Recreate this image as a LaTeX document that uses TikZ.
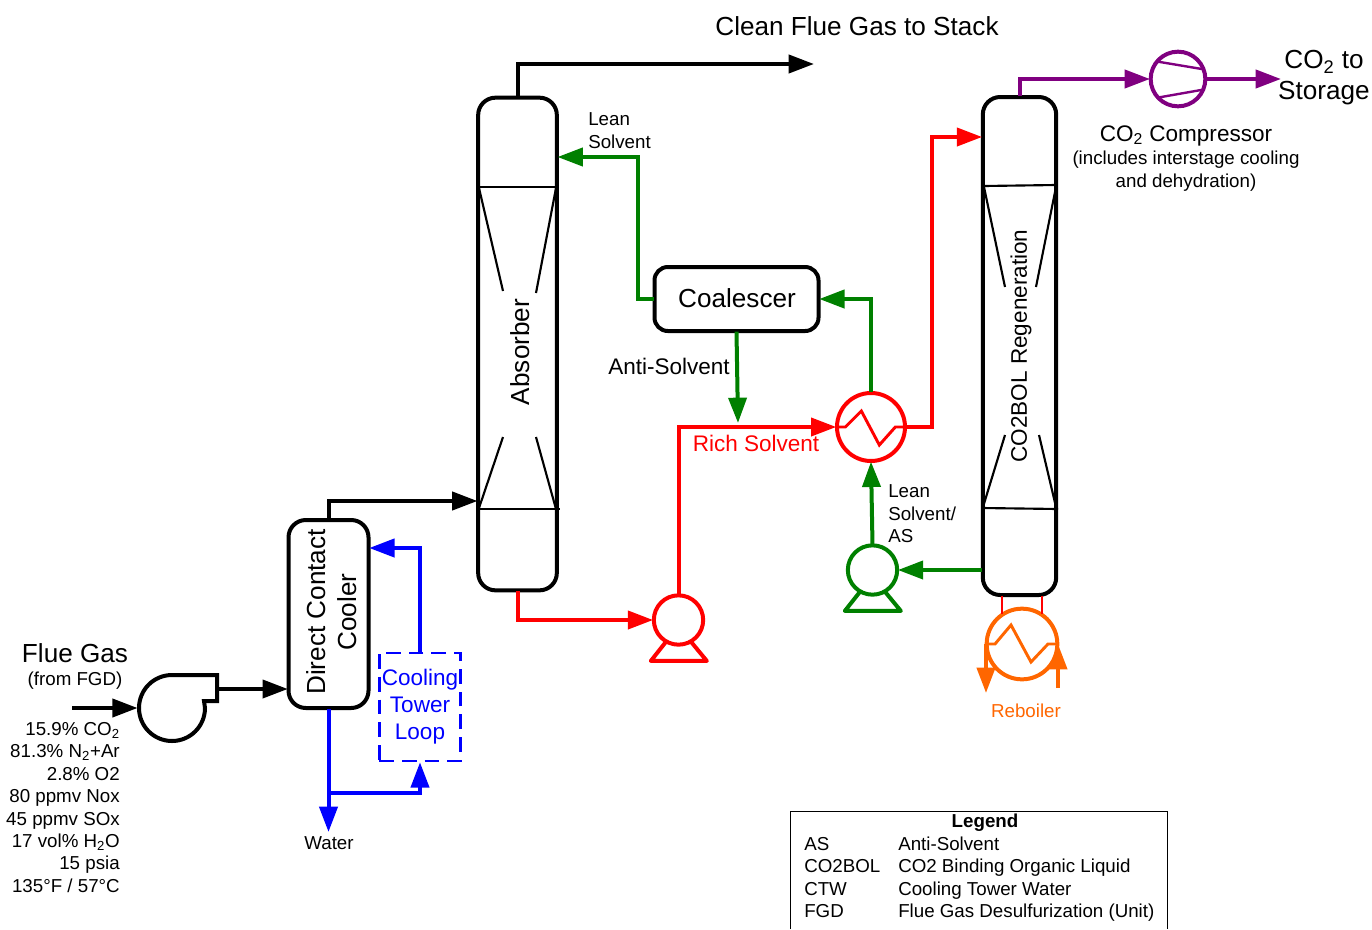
\documentclass[tikz,border=0pt]{standalone}
\usepackage{fontspec}
\setmainfont{Liberation Sans}
\usetikzlibrary{arrows.meta, calc}
\definecolor{pipegreen}{HTML}{008000}
\definecolor{pipered}{HTML}{FF0000}
\definecolor{pipeblue}{HTML}{0000FF}
\definecolor{pipepurple}{HTML}{800080}
\definecolor{pipeorange}{HTML}{FF6600}

\begin{document}
\begin{tikzpicture}[
    x=0.75pt, y=-0.75pt,
    bigtxt/.style={font=\fontsize{19.6}{23.3}\selectfont, inner sep=0pt},
    midtxt/.style={font=\fontsize{16.9}{20.3}\selectfont, inner sep=0pt},
    smalltxt/.style={font=\fontsize{14.05}{16.8}\selectfont, inner sep=0pt},
    vessel/.style={rectangle, draw=black, line width=3pt, rounded corners=13pt, inner sep=0pt, outer sep=0.5pt},
    equip/.style={circle, draw, line width=3pt, inner sep=0pt, outer sep=0.5pt},
    flow/.style={line width=3pt, -{Triangle[length=19pt, width=13.5pt]}},
    pipe/.style={line width=3pt},
    baffle/.style={black, line width=1.6pt},
]
\useasboundingbox (0,0) rectangle (1372,929);

% ================================================ vessels
\node[vessel, minimum width=59pt, minimum height=369.5pt] (absorber) at (517.5,344) {};
\node[vessel, minimum width=55pt, minimum height=373.5pt] (regen) at (1019.5,346) {};
\node[vessel, minimum width=60pt, minimum height=141pt] (dcc) at (328.5,614) {};
\node[vessel, minimum width=123pt, minimum height=48pt, rounded corners=10pt] (coalescer) at (736.5,299) {};
\node[bigtxt, rotate=90] (abslabel) at (520,352) {Absorber};
\node[midtxt, rotate=90] (regenlabel) at (1021,346) {CO2BOL Regeneration};
\node[bigtxt, rotate=90, align=center] (dcclabel) at (332,612) {Direct Contact\\Cooler};
\node[bigtxt] (coallabel) at (737,298) {Coalescer};

% packing inside the columns
\draw[baffle] (477,187) -- (557,187);
\draw[baffle] (477,509) -- (560,509);
\draw[baffle] (479,188) -- (503,291);
\draw[baffle] (556,188) -- (536,293);
\draw[baffle] (503,437) -- (479,508);
\draw[baffle] (536,437) -- (556,509);
\draw[baffle] (984,186) -- (1056,185);
\draw[baffle] (982,508) -- (1058,509);
\draw[baffle] (984,187) -- (1005,287);
\draw[baffle] (1056,187) -- (1036,287);
\draw[baffle] (1005,435) -- (983,507);
\draw[baffle] (1039,435) -- (1056,507);

% ================================================ equipment
\node[equip, draw=none, minimum size=49.5pt, outer sep=0pt] (blower) at (172,708) {};
\draw[pipe, line join=miter] (blower.north) arc[start angle=90, end angle=360, radius=24.75pt]
    -- (204,701) -- (217,701) -- (217,675) -- cycle;

\node[equip, draw=pipered, minimum size=51pt] (hxrich) at (871,427) {};
\node[equip, draw=pipered, minimum size=37pt] (pumprich) at (678.5,620) {};
\node[equip, draw=pipegreen, minimum size=37pt] (pumplean) at (872.5,570) {};
\node[equip, draw=pipeorange, minimum size=53pt] (reboiler) at (1022,644) {};
\node[equip, draw=pipepurple, minimum size=41pt] (compressor) at (1178,79) {};

\foreach \p/\c in {pumprich/pipered, pumplean/pipegreen}{
    \draw[\c, line width=3pt, line join=round] (\p.240) -- ++(-15,19) -- ++(56,0) -- (\p.300);
}
\draw[pipered, line width=2.2pt] (hxrich.west) -- ++(9,0) -- ++(16,-16) -- ++(18,34) -- ++(16,-18) -- (hxrich.east);
\draw[pipeorange, line width=2.2pt] (reboiler.west) -- ++(9,0) -- ++(16,-19) -- ++(20,37) -- ++(17,-18) -- (reboiler.east);
\draw[pipepurple, line width=1.8pt] (compressor.141) -- (compressor.20);
\draw[pipepurple, line width=1.8pt] (compressor.222) -- (compressor.338);

\node[rectangle, draw=pipeblue, line width=1.9pt, dash pattern=on 11pt off 6pt,
      minimum width=61pt, minimum height=81pt, inner sep=0pt, text=pipeblue,
      midtxt, align=center] (tower) at (420,707) {Cooling\\Tower\\Loop};

% ================================================ black gas lines
\coordinate (fluein) at (72,708);
\coordinate (blowerout) at (217,689);
\coordinate (absgasin) at (absorber.west |- 0,501);
\coordinate (stackout) at (814,64);
\draw[flow] (fluein) -- ([xshift=-1pt]blower.west);
\draw[flow] (blowerout) -- (blowerout -| dcc.west);
\draw[flow] (dcc.north) |- (absgasin);
\draw[flow] (absorber.north) |- (stackout);

% ================================================ green solvent lines
\coordinate (absleanin) at (absorber.east |- 0,157);
\coordinate (antiin) at (738,423);
\draw[flow, pipegreen] (coalescer.west) -- ++(-16,0) |- (absleanin);
\draw[flow, pipegreen] (coalescer.south) -- (antiin);
\draw[flow, pipegreen] (hxrich.north) |- (coalescer.east);
\draw[flow, pipegreen] (pumplean.north) -- (hxrich.south);
\draw[flow, pipegreen] (regen.west |- pumplean.east) -- (pumplean.east);

% ================================================ red solvent lines
\coordinate (regenin) at (regen.west |- 0,137);
\draw[flow, pipered] (absorber.south) |- (pumprich.west);
\draw[flow, pipered] (pumprich.north) |- (hxrich.west);
\draw[flow, pipered] (hxrich.east) -- ++(26,0) |- (regenin);
\draw[pipered, line width=1.5pt] (reboiler.123 |- regen.south) -- (reboiler.123);
\draw[pipered, line width=1.5pt] (reboiler.57 |- regen.south) -- (reboiler.57);

% ================================================ reboiler legs
\coordinate (rebout) at (reboiler.west |- 0,693);
\coordinate (rebin) at (reboiler.east |- 0,688);
\draw[flow, pipeorange] (reboiler.west) -- (rebout);
\draw[flow, pipeorange] (rebin) -- (reboiler.east);

% ================================================ purple CO2 line
\coordinate (storageout) at (1281,79);
\draw[flow, pipepurple] (regen.north) |- (compressor.west);
\draw[flow, pipepurple] (compressor.east) -- (storageout);

% ================================================ blue water lines
\coordinate (waterout) at (dcc.south |- 0,832);
\coordinate (watersplit) at (dcc.south |- 0,793);
\coordinate (dccwaterin) at (dcc.east |- 0,548);
\draw[flow, pipeblue] (dcc.south) -- (waterout);
\draw[flow, pipeblue] (watersplit) -| (tower.south);
\draw[flow, pipeblue] (tower.north) |- (dccwaterin);

% ================================================ labels
\node[bigtxt] (stacklabel) at (857,26) {Clean Flue Gas to Stack};
\node[bigtxt] (fluelabel) at (75,653) {Flue Gas};
\node[smalltxt] (fgdlabel) at (75,681) {(from FGD)};
\node[smalltxt, anchor=east, align=right] (fluecomp) at (120,807.5)
    {15.9\% CO\textsubscript{2}\\81.3\% N\textsubscript{2}+Ar\\2.8\% O2\\80 ppmv Nox\\45 ppmv SOx\\17 vol\% H\textsubscript{2}O\\15 psia\\135°F / 57°C};
\node[smalltxt] (waterlabel) at (329,843) {Water};
\node[smalltxt, anchor=west, align=left] (leanlabel) at (588,130.5) {Lean\\Solvent};
\node[midtxt] (antilabel) at (669,366) {Anti-Solvent};
\node[midtxt, text=pipered] (richlabel) at (756,443) {Rich Solvent};
\node[smalltxt, anchor=west, align=left] (leanaslabel) at (888,514) {Lean\\Solvent/\\AS};
\node[smalltxt, text=pipeorange] (reblabel) at (1026,711) {Reboiler};
\node[bigtxt, align=center] (storagelabel) at (1324,78) {CO\textsubscript{2} to\\Storage};
\node[midtxt] (complabel) at (1186,136) {CO\textsubscript{2} Compressor};
\node[smalltxt, align=center] (compnote) at (1186,171) {(includes interstage cooling\\and dehydration)};

% ================================================ legend
\draw[line width=0.6pt] (790,929) |- (1167,811) -- (1167,929);
\node[smalltxt, anchor=base, font=\fontsize{14.05}{16.8}\selectfont\bfseries] (legendtitle) at (985,827) {Legend};
\foreach \i/\y/\a/\b in {1/850/AS/Anti-Solvent, 2/872/CO2BOL/CO2 Binding Organic Liquid,
                         3/895/CTW/Cooling Tower Water, 4/917/FGD/Flue Gas Desulfurization (Unit)}{
    \node[smalltxt, anchor=base west] (legabbr\i) at (804,\y) {\a};
    \node[smalltxt, anchor=base west] (legtext\i) at (898,\y) {\b};
}

\end{tikzpicture}
\end{document}
